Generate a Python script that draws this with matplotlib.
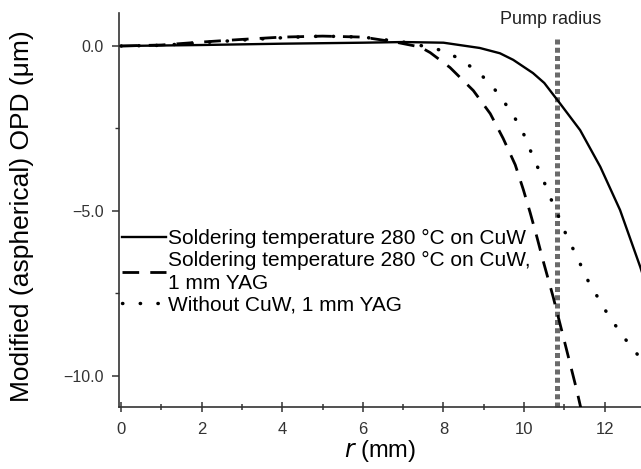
import matplotlib
matplotlib.use("Agg")
import matplotlib.pyplot as plt

plt.rcParams['font.family'] = ['Liberation Sans', 'DejaVu Sans']

# Data (r in mm, OPD in µm)
r_solid = [0, 2, 4, 6, 7, 8, 8.9, 9.4, 9.73, 10.22, 10.5, 10.89, 11.39, 11.89, 12.38, 12.88, 13.2]
opd_solid = [0, 0.03, 0.07, 0.1, 0.12, 0.1, -0.06, -0.22, -0.42, -0.82, -1.12, -1.74, -2.55,
             -3.66, -4.97, -6.69, -7.9]

r_dash = [0, 1, 2, 3, 4, 5, 6, 6.8, 7.42, 7.67, 8.16, 8.74, 9.16, 9.48, 9.78, 9.98, 10.15,
          10.32, 10.47, 10.72, 10.97, 11.3, 11.45]
opd_dash = [0, 0.03, 0.12, 0.2, 0.27, 0.3, 0.27, 0.12, -0.03, -0.2, -0.65, -1.35, -2.05, -2.8,
            -3.6, -4.35, -5.05, -5.8, -6.5, -7.6, -8.8, -10.4, -11.2]

r_dot = [0, 1, 2, 3, 4, 5, 6, 7, 7.74, 8.12, 8.49, 8.86, 9.23, 9.48, 9.73, 9.95, 10.1, 10.27,
         10.45, 10.6, 10.85, 11.07, 11.27, 11.44, 11.62, 11.84, 12.06, 12.33, 12.6, 12.88, 13.2]
opd_dot = [0, 0.02, 0.1, 0.18, 0.25, 0.3, 0.27, 0.12, -0.06, -0.2, -0.47, -0.78, -1.25, -1.65,
           -2.1, -2.55, -3.0, -3.5, -3.97, -4.45, -5.15, -5.8, -6.28, -6.73, -7.2, -7.64, -8.1,
           -8.58, -9.03, -9.45, -9.9]

labels = ["Soldering temperature 280 °C on CuW",
          "Soldering temperature 280 °C on CuW,\n1 mm YAG",
          "Without CuW, 1 mm YAG"]

pump_r = 10.82
pump_top = 0.2

x_ticks = [0, 2, 4, 6, 8, 10, 12]
y_ticks = [0.0, -5.0, -10.0]
y_ticklabels = ["0.0", "\u22125.0", "\u221210.0"]

fig = plt.figure(figsize=(6.41, 4.69), dpi=100)
ax = fig.add_axes([119/641, 62/469, 1 - 119/641, (456 - 62)/469])

ax.plot(r_solid, opd_solid, color='black', lw=1.7, label=labels[0], zorder=3)
ax.plot(r_dash, opd_dash, color='black', lw=2.0, linestyle=(0, (6, 4)), dash_capstyle='butt',
        label=labels[1], zorder=3)
ax.plot(r_dot, opd_dot, color='black', lw=2.5, linestyle=(0, (0.1, 5)), dash_capstyle='round',
        label=labels[2], zorder=3)

ax.plot([pump_r, pump_r], [pump_top, -11.0], color='#6a6a6a', lw=3.6,
        linestyle=(0, (1, 0.65)), dash_capstyle='butt', zorder=2, clip_on=False)
ax.text(10.65, 0.8, "Pump radius", ha='center', va='center', fontsize=13, color='#222222')

ax.set_xlim(-0.05, 12.9)
ax.set_ylim(-10.94, 1.0)

ax.spines['top'].set_visible(False)
ax.spines['right'].set_visible(False)
for s in ['left', 'bottom']:
    ax.spines[s].set_color('#333333')
    ax.spines[s].set_linewidth(1.2)

ax.set_xticks(x_ticks)
ax.set_xticks([1, 3, 5, 7, 9, 11], minor=True)
ax.set_yticks(y_ticks)
ax.set_yticklabels(y_ticklabels)
ax.set_yticks([-2.5, -7.5], minor=True)
ax.tick_params(axis='x', which='both', direction='inout', length=7, width=1.1, colors='#333333',
               labelsize=12, pad=7)
ax.tick_params(axis='x', which='minor', length=4)
ax.tick_params(axis='y', which='major', direction='out', length=5, width=1.1, colors='#333333',
               labelsize=11.5, pad=6)
ax.tick_params(axis='y', which='minor', direction='out', length=3, width=1.0, colors='#333333')

ax.set_xlabel("$\\it{r}$ (mm)", fontsize=17, labelpad=1)
ax.set_ylabel("Modified (aspherical) OPD (\u03bcm)", fontsize=19)
ax.yaxis.set_label_coords(-0.163, 0.485)

leg = ax.legend(loc='upper left', bbox_to_anchor=(122/641, 1 - 229/469),
                bbox_transform=fig.transFigure, frameon=False, fontsize=15,
                handlelength=2.1, handletextpad=0.1, labelspacing=0.12, borderpad=0,
                borderaxespad=0)
for t in leg.get_texts():
    t.set_linespacing(1.3)

fig.savefig("out.png", dpi=100)
